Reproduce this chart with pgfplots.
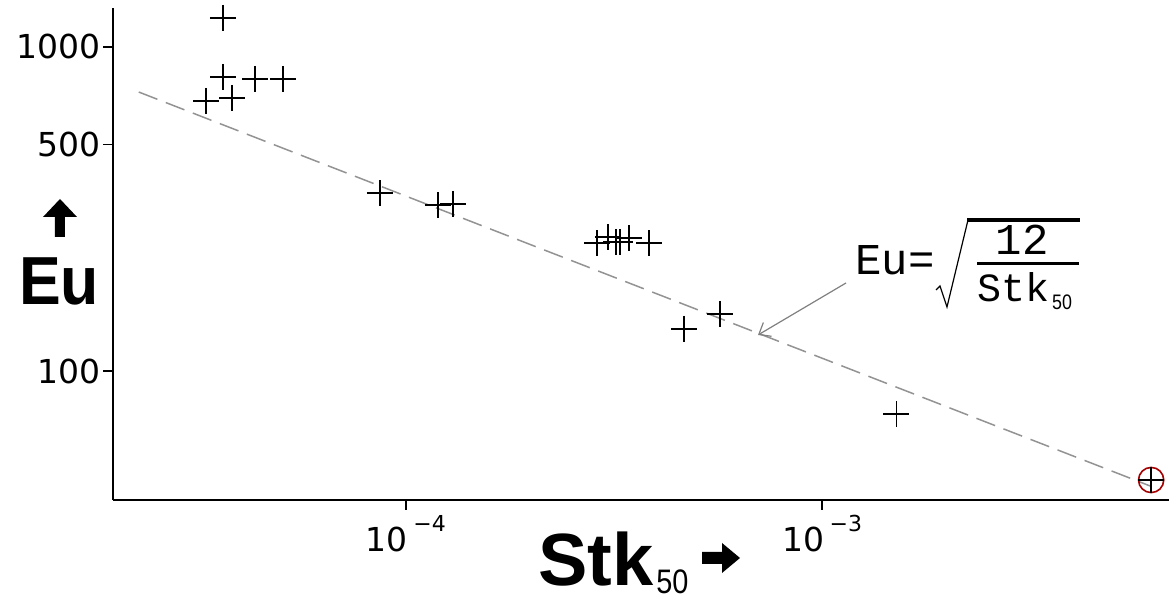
\documentclass[border=0pt]{standalone}
\usepackage{fontspec}
\usepackage{pgfplots}
\pgfplotsset{compat=1.18}
\usetikzlibrary{arrows.meta}
\setmainfont{DejaVu Sans}
\newfontfamily\tickfont{DejaVu Sans}
\newfontfamily\labfont{Liberation Sans}[FakeStretch=0.92]
\newfontfamily\stkfont{Liberation Sans}
\newfontfamily\subfont{Liberation Sans}[FakeStretch=0.85]
\newfontfamily\formfont{Liberation Mono}
\begin{document}
\begin{tikzpicture}
\path[use as bounding box] (-56.5pt,-49pt) rectangle (528pt,250pt);
\begin{axis}[
  at={(0,0)}, anchor=south west,
  scale only axis, width=528pt, height=246pt,
  xmode=log, ymode=log,
  xmin=1.977e-5, xmax=6.82e-3,
  ymin=40, ymax=1318,
  axis lines*=left,
  axis line style={-, line width=0.9pt},
  xtick={1e-4,1e-3},
  xticklabels={10\,\raisebox{10pt}{\fontsize{11}{11}\selectfont −4},10\,\raisebox{10pt}{\fontsize{11}{11}\selectfont −3}},
  ytick={100,500,1000},
  yticklabels={100,500,1000},
  xminorticks=false, yminorticks=false,
  tick align=outside,
  major tick length=5pt,
  tick style={line width=0.9pt, black},
  ticklabel style={font=\tickfont\fontsize{16.5}{16.5}\selectfont},
  xticklabel style={inner sep=1pt, yshift=-1.5pt},
  yticklabel style={inner sep=1pt},
  clip=false,
]
\addplot[gray!85, line width=0.75pt, dash pattern=on 10pt off 4.5pt] coordinates {(2.28e-5,725.5) (6.18e-3,44.06)};
\addplot[only marks, mark=o, mark size=6.3pt, draw=red!65!black, line width=0.8pt] coordinates {(6.18e-3,46.1)};
\addplot[only marks, mark=+, mark size=6.5pt, black, line width=0.9pt] coordinates {
(3.63e-5,1229)
(3.63e-5,808)
(4.34e-5,797)
(5.06e-5,797)
(3.31e-5,681)
(3.82e-5,696)
(8.66e-5,354)
(1.194e-4,325)
(1.297e-4,328)
(2.88e-4,248)
(3.06e-4,259)
(3.20e-4,250)
(3.27e-4,250)
(3.44e-4,257)
(3.84e-4,248)
(4.66e-4,135)
(5.69e-4,150)
(1.51e-3,73.6)
(6.18e-3,46.1)
};
\end{axis}
\begin{scope}[x=0.5pt, y=-0.5pt, shift={(-56.5pt,250pt)}]
% y label
\node[anchor=base, inner sep=0, font=\labfont\bfseries\fontsize{34}{34}\selectfont] at (59,305) {Eu};
\fill (55,237) -- (65,237) -- (65,217) -- (77,217) -- (60,199) -- (43,217) -- (55,217) -- cycle;
% x label
\node[anchor=base west, inner sep=0, font=\stkfont\bfseries\fontsize{37}{37}\selectfont] (stk) at (538,586) {Stk};
\node[anchor=base west, inner sep=0, font=\subfont\fontsize{17}{17}\selectfont] at ([xshift=1pt,yshift=-4pt]stk.base east) {50};
\fill (702,552) -- (722,552) -- (722,543) -- (740,558) -- (722,573) -- (722,564) -- (702,564) -- cycle;
% annotation
\draw[gray, line width=0.6pt, -{Straight Barb[length=5pt,width=8pt]}] (846,283) -- (758,335);
\node[anchor=base west, inner sep=0, font=\formfont\fontsize{22}{22}\selectfont] at (855,275) {Eu=};
\draw[line width=0.6pt] (936,290) -- (940,286) -- (947,307) -- (968,220);
\draw[line width=2pt] (967,220) -- (1080,220);
\node[anchor=base, inner sep=0, font=\formfont\fontsize{22}{22}\selectfont] at (1022,255) {12};
\draw[line width=1.5pt] (977,263.5) -- (1079,263.5);
\node[anchor=base west, inner sep=0, font=\formfont\fontsize{20}{20}\selectfont] (dstk) at (977,302) {Stk};
\node[anchor=base west, inner sep=0, font=\subfont\fontsize{10.5}{10.5}\selectfont] at ([xshift=1pt,yshift=-4pt]dstk.base east) {50};
\end{scope}
\end{tikzpicture}
\end{document}
